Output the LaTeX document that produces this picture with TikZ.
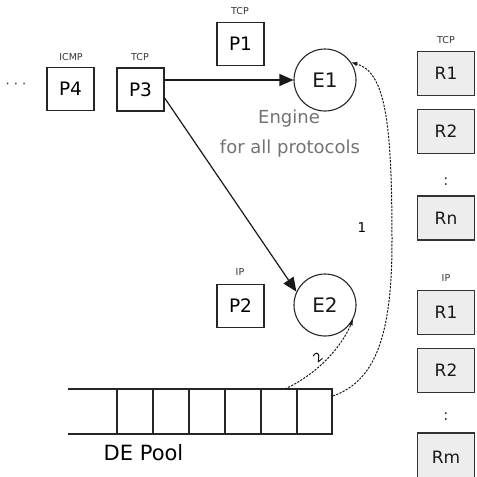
\documentclass[tikz,border=0pt]{standalone}
\usepackage{fontspec}
\setmainfont{DejaVu Sans}
\usetikzlibrary{arrows.meta}
\begin{document}
\begin{tikzpicture}[x=1pt,y=-1pt,
  pbox/.style={draw=black!85,line width=1.3pt,minimum width=47pt,minimum height=43pt,
    inner sep=0pt,text=black,font=\fontsize{18.5}{20}\selectfont},
  rbox/.style={draw=black!80,fill=black!7,line width=1.3pt,minimum width=57pt,minimum height=44pt,
    inner sep=0pt,text=black!90,font=\fontsize{17}{19}\selectfont},
  proto/.style={inner sep=0pt,text=black!80,font=\fontsize{9.5}{11}\selectfont},
  engine/.style={circle,draw=black!85,line width=1.1pt,minimum size=62pt,inner sep=0pt,
    text=black!90,font=\fontsize{20}{22}\selectfont},
  note/.style={inner sep=0pt,text=black!55,font=\fontsize{18}{20}\selectfont},
  flow/.style={line width=1.2pt,draw=black!90,-{Triangle[length=14pt,width=12pt]}},
  fetch/.style={dash pattern=on 2.2pt off 1.3pt,line width=1pt,draw=black!90,
    -{Latex[length=6pt,width=4.5pt]}},
  poolline/.style={line width=1.4pt,draw=black!85}]
\useasboundingbox (0,0) rectangle (477,477);

% incoming packets
\node[inner sep=0pt,text=black!80,font=\fontsize{13}{15}\selectfont] (dots) at (16,86) {· · ·};
\node[pbox] (P4) at (70.5,89) {P4};
\node[proto] (P4t) at (71,57) {ICMP};
\node[pbox] (P3) at (140.5,89.5) {P3};
\node[proto] (P3t) at (140,57) {TCP};
\node[pbox] (P1) at (240.5,44) {P1};
\node[proto] (P1t) at (240,11) {TCP};
\node[pbox] (P2) at (240.5,306) {P2};
\node[proto] (P2t) at (240,272) {IP};

% engines
\node[engine] (E1) at (325,80) {E1};
\node[engine] (E2) at (325,305) {E2};
\node[note] (eng1) at (289,119) {Engine};
\node[note] (eng2) at (290,149) {for all protocols};

% rule sets
\node[proto] (RTt) at (446,40) {TCP};
\node[rbox] (RT1) at (446,73.5) {R1};
\node[rbox] (RT2) at (446,131.5) {R2};
\node[inner sep=0pt,text=black!80,font=\fontsize{15}{17}\selectfont] (RTd) at (446,182) {:};
\node[rbox] (RTn) at (446,218) {Rn};
\node[proto] (RIt) at (446,278) {IP};
\node[rbox] (RI1) at (446,312.5) {R1};
\node[rbox] (RI2) at (446,370.5) {R2};
\node[inner sep=0pt,text=black!80,font=\fontsize{15}{17}\selectfont] (RId) at (446,417) {:};
\node[rbox,minimum height=48pt] (RIm) at (446,457) {Rm};

% detection engine pool
\draw[poolline] (68,389) -- (332,389) -- (332,434) -- (68,434);
\foreach \x in {117,153,189,225,261,297}
  \draw[poolline] (\x,389) -- (\x,434);
\node[inner sep=0pt,text=black,font=\fontsize{21}{23}\selectfont] (pool) at (143.5,453) {DE Pool};
\coordinate (poolEnd) at (333,396);
\coordinate (slotTop) at (285,389);

% dispatch of packets
\draw[flow] (P3.east |- E1.west) -- (E1.west);
\draw[flow] ([yshift=-8.5pt]P3.east) -- (E2.155);

% engines taken from the pool
\draw[fetch] (poolEnd) .. controls (378,380) and (392,330) .. (392,240)
  .. controls (392,120) and (385,72) .. (E1.34);
\node[inner sep=0pt,text=black,font=\fontsize{13.5}{15}\selectfont] (n1) at (362,228) {1};
\draw[fetch] (slotTop) .. controls (315,375) and (340,350) .. (E2.-27);
\node[inner sep=0pt,rotate=40,text=black,font=\fontsize{12.5}{14}\selectfont] (n2) at (318,357) {2};
\end{tikzpicture}
\end{document}
